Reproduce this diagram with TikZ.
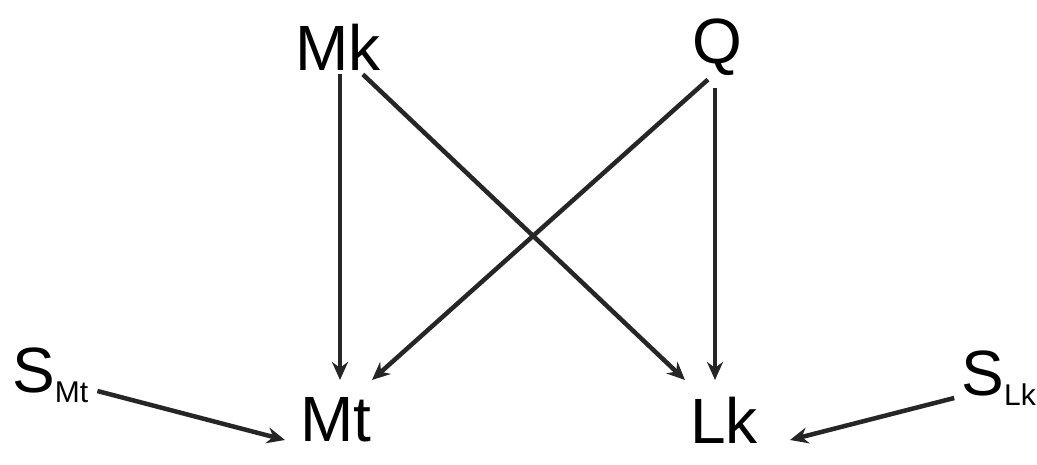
\documentclass[tikz,border=0pt]{standalone}
\usepackage{fontspec}
\setmainfont{Liberation Sans}
\usetikzlibrary{arrows.meta}
\newcommand{\smallsub}[1]{\raisebox{-10pt}{\fontsize{30}{32}\selectfont #1}}
\begin{document}
\begin{tikzpicture}[x=1pt,y=-1pt,
  lbl/.style={font=\fontsize{64}{70}\selectfont, inner sep=4pt},
  arr/.style={line width=4.5pt, draw=black!85, -{Stealth[length=18pt,width=16pt]}}]
\useasboundingbox (0,0) rectangle (1037,465);
\node[lbl] (Mk) at (338,47) {Mk};
\node[lbl] (Q) at (717,47) {Q};
\node[lbl] (Mt) at (336,420) {Mt};
\node[lbl] (Lk) at (724,420) {Lk};
\node[lbl, anchor=west] (SMt) at (8,375) {S\smallsub{Mt}};
\node[lbl, anchor=east] (SLk) at (1040,378) {S\smallsub{Lk}};
\draw[arr] (Mk.south -| 340,0) -- (340,380);
\draw[arr] (Mk.south east) ++(-22,0) coordinate (a1) -- (685,380);
\draw[arr] (Q.south west) ++(20,0) coordinate (a2) -- (372,380);
\draw[arr] (715,88) -- (715,380);
\draw[arr] (SMt.east) ++(5,16) -- (285,440);
\draw[arr] (SLk.west) ++(-3,20) -- (790,440);
\end{tikzpicture}
\end{document}
